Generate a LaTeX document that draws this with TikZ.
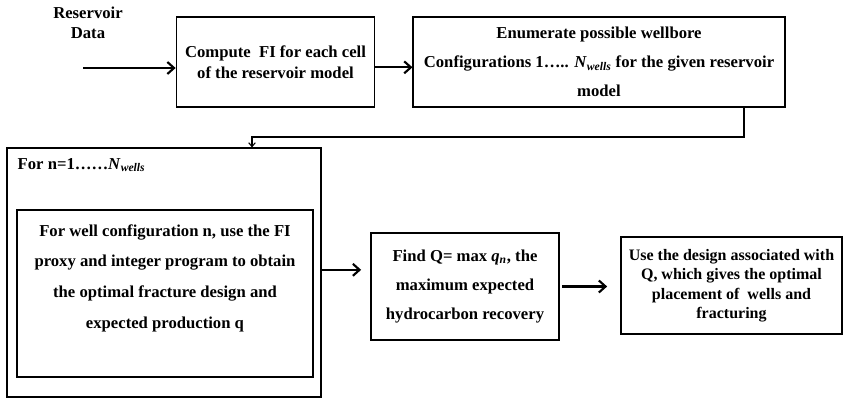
\documentclass[tikz,border=0pt]{standalone}
\usepackage{fontspec}
\setmainfont{Liberation Serif}
\usetikzlibrary{arrows.meta}

\newcommand{\nwells}{\textit{N}\textsubscript{\textit{wells}}}

\begin{document}
\begin{tikzpicture}[x=0.75pt, y=-0.75pt,
        box/.style={draw, line width=0.8pt, align=center, inner sep=0pt},
        txt/.style={font=\bfseries\fontsize{12.5}{#1}\selectfont, align=center},
        flow/.style={line width=1.6pt, -{Straight Barb[length=5pt,width=9pt]}},
        link/.style={line width=0.8pt, -{Straight Barb[length=3pt,width=5pt]}}]
        \useasboundingbox (0, 0) rectangle (843, 399);

        % top row
        \node[txt=15pt] (data) at (88, 23) {Reservoir\\Data};
        \coordinate (input) at (83, 68);

        \node[box, txt=16pt, minimum width=149pt, minimum height=67.5pt] (fi) at (275.5, 62)
            {Compute\ \ FI for each cell\\of the reservoir model};

        \node[box, txt=21.75pt, minimum width=279pt, minimum height=67.5pt] (enum) at (599, 62)
            {Enumerate possible wellbore\\Configurations 1….. \nwells{} for the given reservoir\\model};

        % loop over the configurations
        \node[box, minimum width=235.5pt, minimum height=186.75pt] (loop) at (164, 272.5) {};
        \node[txt=14pt, anchor=west] (range) at (13, 165) {For n=1……\nwells};

        \node[box, minimum width=222pt, minimum height=125.25pt] (design) at (165, 293.5) {};
        \node[txt=23pt] (designtext) at (165, 278)
            {For well configuration n, use the FI\\proxy and integer program to obtain\\the optimal fracture design and\\expected production q};

        % bottom row
        \node[box, txt=21.75pt, minimum width=141pt, minimum height=80.25pt] (find) at (465, 286.5)
            {Find Q= max \textit{q}\textsubscript{\textit{n}}, the\\maximum expected\\hydrocarbon recovery};

        \node[box, txt=14.6pt, font=\bfseries\fontsize{12}{14.6}\selectfont,
            minimum width=165.75pt, minimum height=72.75pt] (use) at (731.5, 285.5)
            {Use the design associated with\\Q, which gives the optimal\\placement of\ \ wells and\\fracturing};

        \coordinate (bend) at (744, 137);

        \draw[flow] (input) -- (input -| fi.west);
        \draw[flow] ([yshift=-4pt]fi.east) -- ([yshift=-4pt]enum.west);
        \draw[link] (enum.south -| bend) -- (bend) -| ([xshift=66pt]loop.north);
        \draw[flow, shorten >=7pt] ([yshift=2pt]loop.east) -- ([yshift=2pt]loop.east -| find.west);
        \draw[flow, shorten <=2pt, shorten >=10pt] (find.east) -- (find.east -| use.west);
\end{tikzpicture}
\end{document}
